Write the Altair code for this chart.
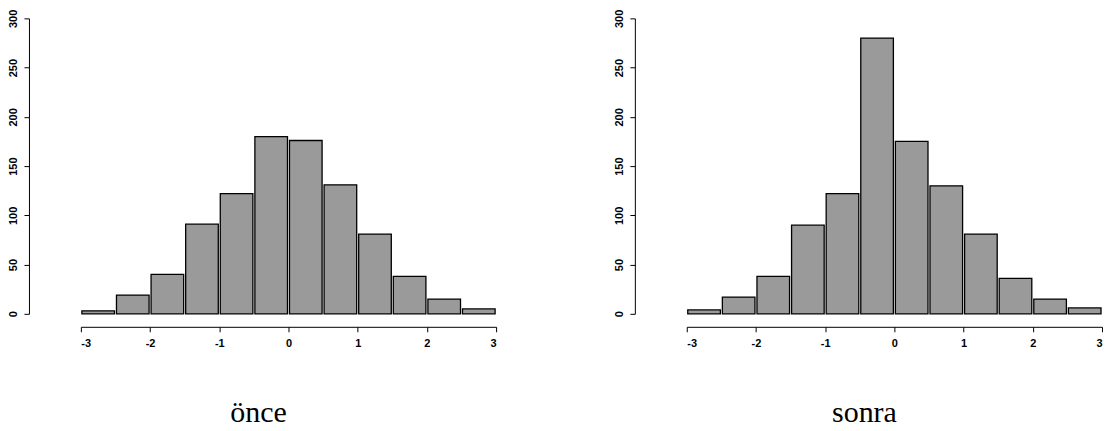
import altair as alt
import pandas as pd

bin_starts = [-3.0, -2.5, -2.0, -1.5, -1.0, -0.5, 0.0, 0.5, 1.0, 1.5, 2.0, 2.5]
bin_width = 0.5
once_counts = [3, 19, 40, 91, 122, 180, 176, 131, 81, 38, 15, 5]
sonra_counts = [4, 17, 38, 90, 122, 280, 175, 130, 81, 36, 15, 6]
x_ticks = [-3, -2, -1, 0, 1, 2, 3]
y_ticks = [0, 50, 100, 150, 200, 250, 300]
titles = ["önce", "sonra"]


def make_df(counts):
    return pd.DataFrame({
        "start": bin_starts,
        "end": [s + bin_width for s in bin_starts],
        "count": counts,
        "base": [0] * len(counts),
    })


def panel(counts, title):
    df = make_df(counts)
    return alt.Chart(df).mark_bar(
        fill="#9a9a9a", stroke="black", strokeWidth=1.3, xOffset=1, x2Offset=-1
    ).encode(
        x=alt.X("start:Q", scale=alt.Scale(domain=[-3, 3], nice=False),
                axis=alt.Axis(values=x_ticks, labelExpr="'' + datum.value", title=None,
                              offset=13, tickSize=5, labelPadding=6,
                              labelFont="Liberation Sans", labelFontSize=11,
                              labelFontWeight="bold", labelColor="black",
                              domainColor="black", tickColor="black", grid=False)),
        x2="end:Q",
        y=alt.Y("count:Q", scale=alt.Scale(domain=[0, 300], nice=False),
                axis=alt.Axis(values=y_ticks, title=None, offset=52, tickSize=5,
                              labelPadding=5, labelAngle=270, labelAlign="center",
                              labelBaseline="bottom",
                              labelFont="Liberation Sans", labelFontSize=11,
                              labelFontWeight="bold",
                              labelColor="black", domainColor="black",
                              tickColor="black", grid=False)),
        y2="base:Q",
    ).properties(
        width=416, height=296,
        title=alt.TitleParams(text=title, orient="bottom", font="Liberation Serif",
                              fontSize=30, fontWeight="normal", color="black",
                              dx=-30, offset=49, anchor="middle"),
    )


chart = alt.hconcat(panel(once_counts, titles[0]), panel(sonra_counts, titles[1]),
                    spacing=117).configure_view(stroke=None).properties(padding=0)

chart.save("out.html", embed_options={"renderer": "svg", "actions": False})
